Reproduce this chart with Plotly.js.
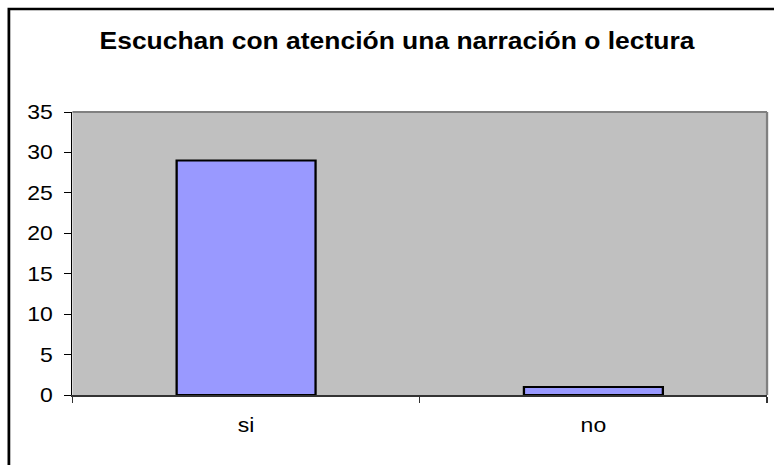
<!DOCTYPE html>
<html>
<head>
<meta charset="utf-8">
<script src="https://cdn.plot.ly/plotly-3.0.1.min.js"></script>
<style>
  html, body { margin: 0; padding: 0; background: #ffffff; overflow: hidden; }
  #wrap { width: 774px; height: 465px; overflow: hidden; }
  #chart { transform-origin: 0 0; }
</style>
</head>
<body>
<div id="wrap"><div id="chart"></div></div>
<script>
const chartTitle = "Escuchan con atención una narración o lectura";
const categories = ["si", "no"];
const values = [29, 1];
const yTicks = [0, 5, 10, 15, 20, 25, 30, 35];

// the reference image is horizontally stretched; draw narrower and stretch
const SX = 1.15;
const W0 = 774, H = 465;
const W = W0 / SX;
const ML = 73 / SX, MR = 7 / SX, MT = 112, MB = 70;
const pw = W - ML - MR, ph = H - MT - MB;

document.getElementById("chart").style.transform = "scaleX(" + SX + ")";

const trace = {
  type: "bar",
  x: categories,
  y: values,
  marker: { color: "#9999FF", line: { color: "#000000", width: 2 } },
  hoverinfo: "x+y"
};

const layout = {
  width: W, height: H,
  margin: { l: ML, r: MR, t: MT, b: MB, pad: 0 },
  paper_bgcolor: "#ffffff",
  plot_bgcolor: "#C0C0C0",
  bargap: 0.6,
  showlegend: false,
  font: { family: "Liberation Sans, Arial, sans-serif", color: "#000000", size: 20 },
  title: {
    text: "<b>" + chartTitle + "</b>",
    font: { family: "Liberation Sans, Arial, sans-serif", size: 23, color: "#000000" },
    xref: "container", x: 397 / W0, xanchor: "center",
    yref: "container", y: 1 - 41 / H, yanchor: "middle"
  },
  xaxis: {
    type: "category",
    showgrid: false,
    showline: true, linecolor: "#333333", linewidth: 1.5,
    ticks: "outside", tickson: "boundaries", ticklen: 6, tickcolor: "#333333", tickwidth: 1,
    ticklabelstandoff: 12,
    tickfont: { size: 20, color: "#000000" },
    zeroline: false, fixedrange: true
  },
  yaxis: {
    range: [0, 35],
    tickvals: yTicks,
    ticktext: yTicks.map(String),
    showgrid: false,
    showline: true, linecolor: "#000000", linewidth: 1,
    ticks: "outside", ticklen: 6, tickcolor: "#000000", tickwidth: 1,
    ticklabelstandoff: 6,
    tickfont: { size: 20, color: "#000000" },
    zeroline: false, fixedrange: true
  },
  shapes: [
    { type: "line", xref: "paper", yref: "paper", x0: 0, x1: 1, y0: 1, y1: 1,
      line: { color: "#808080", width: 2 } },
    { type: "line", xref: "paper", yref: "paper", x0: 1, x1: 1, y0: 0, y1: 1,
      line: { color: "#808080", width: 2 } },
    { type: "rect", xref: "paper", yref: "paper",
      x0: (9.5 / SX - ML) / pw, x1: (W + 20 - ML) / pw,
      y0: -(H + 20 - MT - ph) / ph, y1: 1 + (MT - 9) / ph,
      line: { color: "#000000", width: 2.4 }, fillcolor: "rgba(0,0,0,0)", layer: "above" }
  ]
};

Plotly.newPlot("chart", [trace], layout, { displayModeBar: false, staticPlot: true });
</script>
</body>
</html>
